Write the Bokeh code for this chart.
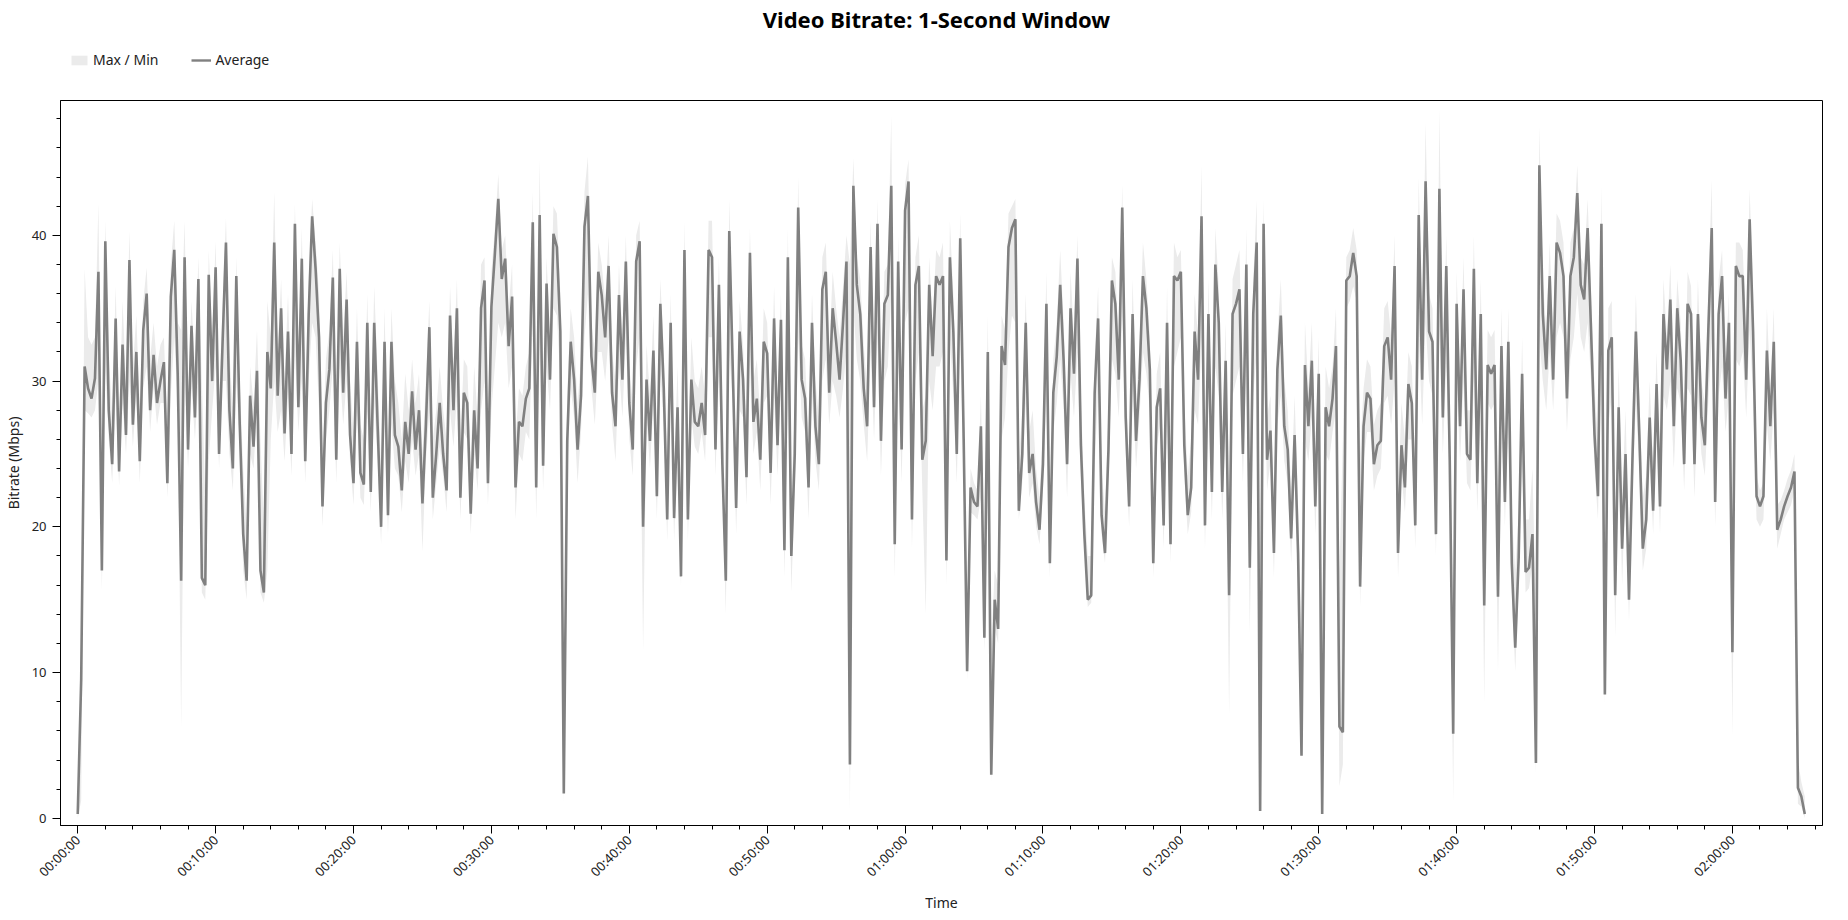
import math
from bokeh.plotting import figure
from bokeh.layouts import column
from bokeh.models import Range1d, FixedTicker, Legend, LegendItem, Label, ColumnDataSource
from bokeh.embed import file_html
from bokeh.resources import INLINE

# ---------------- data (15-second samples, Mbps) ----------------
STEP_S = 15

avg_a = [0.3, 9.5, 31.0, 29.5, 28.8, 30.2, 37.5, 17.0, 39.6, 28.0,
         24.3, 34.3, 23.8, 32.5, 26.3, 38.3, 27.0, 32.0, 24.5, 33.5,
         36.0, 28.0, 31.8, 28.5, 30.0, 31.3, 23.0, 35.8, 39.0, 30.5,
         16.3, 38.5, 25.3, 33.8, 27.5, 37.0, 16.5, 16.0, 37.3, 30.0,
         37.8, 25.0, 32.5, 39.5, 28.0, 24.0, 37.2, 27.0, 19.5, 16.3,
         29.0, 25.5, 30.7, 17.0, 15.5, 32.0, 29.5, 39.5, 29.0, 35.0]
max_a = [1.5, 10.5, 37.7, 33.0, 32.5, 33.0, 42.2, 22.0, 41.0, 32.0,
         27.5, 36.5, 27.0, 35.5, 30.0, 40.3, 31.0, 34.5, 28.0, 35.5,
         37.8, 31.5, 34.0, 31.0, 32.5, 33.0, 26.5, 38.0, 41.0, 34.0,
         33.5, 41.0, 29.0, 35.5, 31.0, 38.5, 30.0, 22.0, 39.0, 33.0,
         39.6, 29.0, 35.0, 41.2, 32.0, 28.0, 38.5, 30.0, 24.0, 20.0,
         31.0, 28.5, 33.5, 26.0, 20.0, 35.5, 33.0, 43.0, 32.0, 37.0]
min_a = [0.0, 1.2, 28.0, 27.8, 27.5, 28.0, 30.0, 15.6, 31.0, 26.0,
         23.0, 29.0, 22.8, 28.5, 25.0, 30.0, 25.5, 29.0, 23.0, 29.5,
         31.0, 26.5, 29.5, 27.0, 28.5, 28.5, 22.0, 29.0, 33.0, 28.5,
         6.2, 30.0, 24.0, 29.5, 26.0, 30.0, 15.5, 15.0, 24.5, 28.0,
         31.0, 24.0, 30.0, 30.0, 25.0, 22.5, 30.0, 25.5, 17.0, 15.0,
         25.0, 24.0, 28.0, 15.5, 14.8, 17.0, 26.0, 30.0, 26.5, 28.0]

avg_b = [26.4, 33.4, 25.0, 40.8, 28.2, 38.4, 24.5, 34.6, 41.3, 37.7,
         33.0, 21.4, 28.5, 30.8, 37.1, 24.6, 37.7, 29.2, 35.6, 26.3,
         23.0, 32.7, 23.7, 22.9, 34.0, 22.4, 34.0, 26.9, 20.0, 32.7,
         20.8, 32.7, 26.3, 25.5, 22.5, 27.2, 25.0, 29.3, 25.3, 28.0,
         21.6, 27.0, 33.7, 22.0, 25.0, 28.5, 25.0, 22.5, 34.5, 28.0,
         35.0, 22.0, 29.2, 28.5, 20.9, 28.0, 24.0, 35.0, 36.9, 23.0,
         35.1, 38.7, 42.5]
max_b = [30.0, 36.0, 28.5, 42.2, 31.5, 40.5, 28.0, 37.0, 42.5, 39.5,
         36.0, 25.0, 31.5, 33.5, 39.0, 28.0, 39.5, 33.0, 37.5, 30.0,
         26.5, 35.0, 27.0, 26.0, 36.0, 25.5, 36.5, 30.5, 24.0, 35.0,
         24.0, 35.0, 30.0, 28.5, 26.0, 30.5, 28.0, 31.5, 28.5, 30.5,
         25.0, 30.0, 35.5, 26.0, 28.0, 31.0, 28.0, 26.0, 36.5, 31.0,
         37.0, 26.0, 31.5, 31.0, 24.5, 31.0, 27.5, 38.0, 38.5, 27.0,
         37.5, 40.5, 44.2]
min_b = [24.5, 29.0, 23.5, 32.0, 26.5, 30.0, 23.0, 30.0, 34.0, 33.0,
         28.0, 20.0, 26.0, 28.0, 31.0, 23.0, 31.0, 27.0, 30.0, 24.5,
         21.5, 28.0, 22.0, 21.5, 28.0, 21.0, 28.5, 24.5, 18.8, 27.0,
         19.5, 27.0, 24.0, 23.5, 21.0, 24.5, 23.0, 26.0, 23.5, 25.0,
         18.3, 24.5, 28.0, 20.5, 23.0, 25.5, 23.5, 21.0, 28.0, 25.5,
         29.0, 20.5, 26.5, 26.0, 19.5, 25.0, 22.5, 28.0, 30.0, 21.5,
         28.0, 31.0, 34.0]

avg_c = [37.0, 38.4, 32.4, 35.8, 22.7, 27.2, 26.9, 28.8, 29.5, 40.9,
         22.7, 41.4, 24.2, 36.7, 30.1, 40.1, 39.2, 33.4, 1.7, 25.9,
         32.7, 30.1, 25.3, 29.0, 40.6, 42.7, 31.7, 29.2, 37.5, 35.9,
         33.0, 37.9, 29.2, 26.9, 35.9, 30.1, 38.2, 28.5, 25.3, 38.2,
         39.6, 20.0, 30.1, 25.9, 32.1, 22.1, 35.3, 29.5, 20.5, 34.0,
         20.6, 28.2, 16.6, 39.0, 20.5, 30.1, 27.2, 26.9, 28.5, 26.3,
         39.0, 38.5, 25.3, 36.6, 24.3]
max_c = [39.0, 40.0, 35.0, 38.0, 26.0, 29.5, 29.0, 31.0, 32.0, 43.0,
         26.0, 45.2, 27.5, 38.5, 33.0, 42.0, 41.5, 36.0, 4.0, 29.0,
         35.0, 33.0, 28.5, 31.5, 43.0, 45.4, 34.0, 32.0, 39.5, 38.0,
         35.5, 40.0, 32.0, 30.0, 38.0, 33.0, 40.0, 31.0, 28.5, 40.0,
         41.0, 22.0, 32.5, 29.0, 34.5, 26.0, 37.0, 32.0, 24.0, 36.0,
         24.0, 31.0, 21.0, 41.0, 23.5, 33.0, 30.0, 29.5, 31.0, 29.0,
         41.0, 41.0, 29.0, 38.5, 28.0]
min_c = [33.0, 34.0, 29.5, 31.0, 20.5, 25.0, 24.5, 26.5, 26.0, 34.0,
         20.5, 33.0, 22.5, 31.0, 28.0, 35.0, 34.5, 30.0, 1.0, 23.5,
         29.5, 27.5, 23.0, 26.5, 33.0, 36.0, 29.5, 27.0, 32.0, 32.0,
         30.0, 33.0, 27.0, 24.5, 31.0, 27.5, 33.0, 26.0, 23.5, 31.0,
         33.0, 11.5, 27.5, 24.0, 28.5, 20.5, 30.5, 27.0, 19.0, 29.5,
         19.0, 26.0, 15.9, 33.0, 19.0, 27.5, 25.5, 25.0, 26.5, 24.5,
         33.0, 33.0, 23.5, 31.0, 22.5]

avg_d = [16.3, 40.3, 31.0, 21.3, 33.4, 30.1, 23.4, 38.8, 27.2, 28.8,
         24.6, 32.7, 31.9, 23.7, 34.3, 25.6, 34.2, 18.4, 38.5, 18.0,
         25.0, 41.9, 30.1, 28.8, 22.7, 34.0, 26.9, 24.3, 36.3, 37.5,
         29.2, 35.0, 32.7, 30.1, 34.0, 38.2, 3.7, 43.4, 36.6, 34.6,
         29.5, 26.9, 39.2, 28.2, 40.8, 25.9, 35.3, 35.9, 43.4, 18.8,
         38.2, 25.3, 41.7, 43.7, 20.5, 36.6, 37.9, 24.6, 25.9, 36.6,
         31.7, 37.2, 36.6]
max_d = [19.0, 42.5, 33.5, 24.5, 35.5, 32.5, 26.5, 40.5, 30.0, 31.5,
         27.5, 35.0, 34.0, 27.0, 36.5, 28.5, 36.0, 22.0, 40.5, 22.0,
         28.0, 44.0, 32.5, 31.5, 26.0, 36.0, 30.0, 27.5, 38.5, 39.5,
         32.0, 37.5, 35.0, 33.0, 36.5, 40.0, 38.0, 45.3, 38.5, 37.0,
         32.5, 29.5, 41.0, 31.0, 42.5, 29.0, 37.5, 38.0, 48.2, 22.0,
         40.0, 28.5, 43.5, 45.2, 24.0, 38.5, 40.0, 28.0, 29.0, 38.5,
         34.0, 39.0, 38.5]
min_d = [14.0, 32.0, 28.5, 19.5, 28.0, 27.5, 21.5, 31.0, 25.0, 26.5,
         22.5, 28.5, 29.0, 21.5, 29.0, 23.5, 29.5, 16.5, 30.0, 15.5,
         22.5, 33.0, 27.5, 26.5, 20.5, 29.0, 24.5, 22.5, 30.0, 31.5,
         27.0, 30.0, 29.0, 27.5, 29.5, 32.0, 0.5, 35.0, 31.5, 30.0,
         27.0, 24.5, 32.0, 26.0, 33.0, 23.5, 30.0, 31.0, 36.0, 16.5,
         31.0, 23.0, 34.0, 35.0, 18.5, 30.0, 32.0, 22.5, 14.0, 30.0,
         28.0, 31.0, 31.0]

avg_e = [37.2, 17.7, 38.5, 33.4, 25.0, 39.8, 26.0, 10.1, 22.7, 21.7,
         21.4, 26.9, 12.4, 32.0, 3.0, 15.0, 13.0, 32.4, 31.1, 39.2,
         40.5, 41.1, 21.1, 25.0, 34.0, 23.7, 25.0, 21.7, 19.8, 24.3,
         35.3, 17.5, 29.2, 31.7, 36.6, 31.4, 24.3, 35.0, 30.5, 38.4,
         25.6, 19.5, 15.0, 15.3, 29.2, 34.3, 20.8, 18.2, 25.3, 36.9,
         35.3, 30.1, 41.9, 27.5, 21.4, 34.6, 25.9, 30.1, 37.2, 35.0,
         30.8, 17.5, 28.2, 29.5]
max_e = [39.5, 20.0, 41.0, 36.0, 28.0, 41.5, 29.5, 13.0, 24.0, 23.0,
         22.5, 29.0, 18.0, 34.5, 12.0, 17.0, 16.0, 34.5, 33.5, 41.5,
         42.0, 42.5, 24.5, 28.0, 36.0, 26.5, 28.0, 24.0, 22.0, 27.0,
         37.5, 20.0, 31.5, 34.0, 39.0, 34.0, 27.0, 37.5, 33.0, 40.0,
         29.0, 22.0, 18.0, 18.0, 31.5, 36.5, 24.0, 21.0, 28.0, 38.5,
         37.5, 32.5, 43.5, 30.5, 24.0, 37.0, 28.5, 32.5, 39.5, 37.0,
         33.0, 21.0, 30.5, 32.0]
min_e = [32.0, 16.0, 33.0, 29.0, 23.0, 33.0, 23.0, 9.5, 21.0, 20.8,
         20.5, 22.0, 11.5, 22.0, 2.5, 13.0, 12.0, 26.0, 27.5, 32.0,
         34.5, 34.0, 20.5, 23.0, 28.5, 22.0, 23.0, 20.0, 18.8, 22.5,
         29.0, 16.5, 26.5, 28.5, 31.5, 28.0, 22.0, 30.5, 27.5, 32.0,
         23.5, 18.5, 14.5, 14.8, 24.0, 29.5, 19.5, 17.5, 23.5, 31.5,
         30.5, 27.5, 34.5, 25.0, 20.0, 29.5, 24.0, 27.5, 32.0, 30.5,
         28.0, 16.5, 25.5, 27.0]

avg_f = [20.1, 34.0, 18.8, 37.2, 36.9, 37.5, 25.6, 20.8, 22.7, 33.4,
         30.1, 41.3, 20.1, 34.6, 22.4, 38.0, 34.0, 22.4, 31.4, 15.3,
         34.6, 35.3, 36.3, 25.0, 38.0, 17.2, 34.6, 39.5, 0.5, 40.8,
         24.6, 26.6, 18.2, 30.8, 34.5, 26.9, 25.3, 19.2, 26.3, 18.2,
         4.3, 31.1, 26.9, 31.4, 21.4, 30.5, 0.3, 28.2, 26.9, 28.8,
         32.4, 6.3, 5.9, 36.9, 37.2, 38.8, 37.2, 15.9, 26.9, 29.2,
         28.8, 24.3, 25.6]
max_f = [23.0, 36.5, 22.0, 39.5, 38.5, 39.0, 28.5, 23.5, 26.0, 36.0,
         33.0, 44.8, 23.0, 37.0, 26.0, 40.5, 36.5, 26.0, 34.0, 18.0,
         37.0, 38.0, 39.0, 28.0, 40.5, 21.0, 37.0, 42.4, 16.0, 42.5,
         27.5, 29.0, 22.0, 33.0, 37.0, 30.0, 28.0, 22.5, 29.0, 21.5,
         12.0, 34.0, 29.5, 34.0, 25.0, 33.0, 12.0, 31.0, 29.5, 31.0,
         35.0, 17.0, 26.0, 38.5, 39.0, 40.5, 39.0, 25.0, 29.5, 31.5,
         31.0, 27.0, 28.0]
min_f = [18.5, 28.0, 17.5, 31.0, 32.0, 33.0, 23.5, 19.5, 21.0, 28.0,
         27.0, 33.0, 18.5, 29.0, 20.5, 31.0, 29.0, 20.5, 27.0, 7.1,
         29.0, 30.0, 31.0, 23.0, 31.5, 12.7, 29.0, 32.0, 0.2, 33.0,
         22.5, 24.5, 16.5, 27.0, 29.0, 24.5, 23.0, 17.5, 24.0, 16.5,
         4.2, 26.0, 24.5, 27.5, 19.5, 26.0, 0.2, 25.0, 24.5, 26.5,
         28.0, 2.2, 3.7, 35.0, 35.5, 36.5, 35.5, 14.5, 24.5, 26.5,
         26.5, 22.5, 23.5]

avg_g = [25.9, 32.4, 33.0, 30.1, 37.9, 18.2, 25.6, 22.7, 29.8, 28.5,
         20.1, 41.4, 30.1, 43.7, 33.4, 32.7, 19.5, 43.2, 27.5, 37.9,
         24.6, 5.8, 35.3, 26.9, 36.3, 25.0, 24.6, 37.7, 23.0, 34.6,
         14.6, 31.1, 30.5, 31.1, 15.2, 32.4, 21.7, 32.7, 17.5, 11.7,
         17.9, 30.5, 16.9, 17.2, 19.5, 3.8, 44.8, 34.6, 30.8, 37.2,
         30.1, 39.5, 38.8, 37.2, 28.8, 37.2, 38.5, 42.9, 36.6, 35.6,
         40.5, 33.4, 26.3, 22.1, 40.8]
max_g = [28.5, 35.0, 35.5, 33.0, 40.0, 22.0, 28.5, 26.0, 32.0, 31.0,
         24.0, 44.0, 33.0, 47.7, 36.0, 35.0, 23.0, 48.7, 30.5, 40.0,
         28.0, 14.0, 37.5, 30.0, 38.5, 28.0, 28.0, 40.0, 27.0, 37.0,
         22.0, 33.5, 33.0, 33.5, 21.0, 35.0, 25.0, 35.0, 21.0, 17.0,
         21.0, 33.0, 20.5, 20.5, 24.0, 14.0, 47.5, 37.0, 33.5, 39.5,
         33.0, 41.5, 41.0, 39.5, 31.5, 39.5, 40.5, 44.8, 38.5, 38.0,
         42.5, 36.0, 29.5, 26.0, 43.4]
min_g = [24.0, 28.5, 29.0, 27.0, 30.0, 16.5, 23.5, 21.0, 26.0, 26.0,
         18.5, 33.0, 27.0, 34.0, 30.0, 29.0, 18.0, 34.0, 25.0, 31.0,
         22.5, 1.1, 30.0, 24.5, 30.0, 23.0, 22.5, 30.0, 21.0, 29.5,
         7.9, 28.5, 28.0, 28.5, 10.0, 28.5, 20.0, 28.0, 15.5, 10.1,
         16.0, 25.0, 15.5, 15.8, 17.5, 3.0, 33.0, 30.0, 28.0, 32.0,
         28.0, 33.0, 34.0, 33.0, 26.5, 31.5, 33.0, 36.0, 33.0, 32.0,
         34.0, 30.0, 24.0, 20.5, 33.0]

avg_h = [8.5, 32.1, 33.0, 15.3, 28.2, 18.5, 25.0, 15.0, 24.6, 33.4,
         26.3, 18.5, 20.5, 27.5, 21.1, 29.8, 21.4, 34.6, 30.8, 35.6,
         26.9, 35.0, 31.4, 24.3, 35.3, 34.6, 24.3, 34.6, 27.5, 25.6,
         33.4, 40.5, 21.7, 34.6, 37.2, 28.8, 34.0, 11.4, 37.9, 37.2,
         37.2, 30.1, 41.1, 33.4, 22.1, 21.4, 22.1, 32.1, 26.9, 32.7,
         19.8, 20.5, 21.4, 22.1, 22.7, 23.8, 2.1, 1.5, 0.3]
max_h = [12.0, 35.0, 35.5, 19.0, 31.0, 22.0, 28.0, 18.0, 27.5, 36.0,
         29.0, 22.0, 23.5, 30.0, 24.0, 32.0, 24.5, 37.0, 33.0, 38.0,
         30.0, 37.0, 34.0, 27.5, 37.5, 36.5, 27.5, 37.0, 30.0, 28.5,
         36.0, 43.8, 25.0, 37.0, 39.0, 31.5, 36.0, 18.0, 39.5, 39.5,
         39.0, 33.0, 43.2, 36.0, 23.5, 22.5, 23.0, 35.0, 29.5, 35.0,
         21.5, 21.8, 22.5, 23.3, 23.9, 25.0, 4.0, 2.5, 1.5]
min_h = [7.9, 27.0, 29.0, 12.4, 26.0, 16.0, 23.0, 13.5, 22.5, 28.5,
         24.0, 17.0, 18.5, 25.0, 19.5, 27.0, 19.5, 29.0, 28.0, 30.0,
         24.0, 29.5, 28.5, 22.5, 29.5, 29.0, 22.0, 29.0, 25.0, 23.5,
         28.5, 33.0, 20.0, 29.0, 31.0, 26.5, 29.0, 5.6, 31.5, 31.0,
         32.0, 27.5, 33.5, 29.0, 20.5, 20.0, 20.5, 27.0, 24.5, 28.0,
         18.5, 19.5, 20.5, 21.0, 21.5, 22.5, 1.0, 0.8, 0.0]

x_tick_labels = ["00:00:00", "00:10:00", "00:20:00", "00:30:00", "00:40:00",
                 "00:50:00", "01:00:00", "01:10:00", "01:20:00", "01:30:00",
                 "01:40:00", "01:50:00", "02:00:00"]
x_tick_values = [0, 600, 1200, 1800, 2400, 3000, 3600, 4200, 4800, 5400, 6000, 6600, 7200]
y_tick_values = [0, 10, 20, 30, 40]

# ---------------- assemble ----------------
avg_vals = avg_a + avg_b + avg_c + avg_d + avg_e + avg_f + avg_g + avg_h
max_vals = max_a + max_b + max_c + max_d + max_e + max_f + max_g + max_h
min_vals = min_a + min_b + min_c + min_d + min_e + min_f + min_g + min_h
n = min(len(avg_vals), len(max_vals), len(min_vals))
time_s = [i * STEP_S for i in range(n)]
src = ColumnDataSource(dict(t=time_s, avg=avg_vals[:n], hi=max_vals[:n], lo=min_vals[:n]))

FONT = "Noto Sans"
TXT = "#222222"
W = 1832
HEAD_H = 80
LEFT, RIGHT = 50, 20
FRAME_W, FRAME_H = W - LEFT - RIGHT, 725
BAND_COLOR = "#ebebeb"
LINE_COLOR = "#808080"

# ---------------- header: title + legend ----------------
head = figure(width=W, height=HEAD_H, output_backend="svg", toolbar_location=None,
              x_range=Range1d(0, FRAME_W), y_range=Range1d(0, HEAD_H),
              x_axis_location=None, y_axis_location=None,
              min_border_left=0, min_border_right=0, min_border_top=0, min_border_bottom=0,
              background_fill_color="white", border_fill_color="white")
head.outline_line_color = None
head.xgrid.visible = False
head.ygrid.visible = False
head.add_layout(Label(x=FRAME_W / 2, y=HEAD_H - 18, text="Video Bitrate: 1-Second Window",
                      text_align="center", text_baseline="middle", text_font=FONT,
                      text_font_size="22px", text_font_style="bold", text_color="black"))
# off-screen stand-ins so the legend can draw its swatches
swatch = ColumnDataSource(dict(t=[-50, -40], avg=[1, 1], hi=[2, 2], lo=[0, 0]))
lg_band = head.varea(x="t", y1="lo", y2="hi", source=swatch, fill_color=BAND_COLOR)
lg_line = head.line(x="t", y="avg", source=swatch, line_color=LINE_COLOR, line_width=2.4)
legend = Legend(items=[LegendItem(label="Max / Min", renderers=[lg_band]),
                       LegendItem(label="Average", renderers=[lg_line])],
                orientation="horizontal", location=(7, 9),
                border_line_alpha=0, background_fill_alpha=0,
                label_text_font=FONT, label_text_font_size="14px", label_text_color=TXT,
                glyph_width=20, glyph_height=12, label_standoff=4, spacing=33,
                padding=2, margin=0, label_height=16)
head.add_layout(legend)

# ---------------- main plot ----------------
p = figure(frame_width=FRAME_W, frame_height=FRAME_H, output_backend="svg", toolbar_location=None,
           title=None,
           x_range=Range1d(-75, 7592), y_range=Range1d(-0.49, 49.25),
           min_border_left=LEFT, min_border_right=RIGHT, min_border_top=20, min_border_bottom=10,
           background_fill_color="white", border_fill_color="white")
p.xgrid.visible = False
p.ygrid.visible = False
p.outline_line_color = "black"
p.outline_line_width = 1

p.varea(x="t", y1="lo", y2="hi", source=src, fill_color=BAND_COLOR, fill_alpha=1.0)
p.line(x="t", y="avg", source=src, line_color=LINE_COLOR, line_width=2.6)

xa = p.xaxis[0]
xa.ticker = FixedTicker(ticks=x_tick_values,
                        minor_ticks=[m for m in range(0, 7600, 120)])
xa.major_label_overrides = {v: lab for v, lab in zip(x_tick_values, x_tick_labels)}
xa.major_label_orientation = math.pi / 4
xa.axis_label = "Time"

ya = p.yaxis[0]
ya.ticker = FixedTicker(ticks=y_tick_values, minor_ticks=[m for m in range(0, 50, 2)])
ya.axis_label = "Bitrate (Mbps)"

for ax in (xa, ya):
    ax.axis_line_color = "black"
    ax.major_tick_line_color = "black"
    ax.minor_tick_line_color = "black"
    ax.major_tick_in = 0
    ax.minor_tick_in = 0
    ax.major_tick_out = 8
    ax.minor_tick_out = 4
    ax.major_label_text_font = FONT
    ax.major_label_text_font_size = "13px"
    ax.major_label_text_color = TXT
    ax.axis_label_text_font = FONT
    ax.axis_label_text_font_size = "14px"
    ax.axis_label_text_font_style = "normal"
    ax.axis_label_text_color = TXT
ya.major_label_standoff = 6
xa.major_label_standoff = 4
ya.axis_label_standoff = 6
xa.axis_label_standoff = 3

layout = column(head, p)
open("out.html", "w").write(file_html(layout, INLINE))
